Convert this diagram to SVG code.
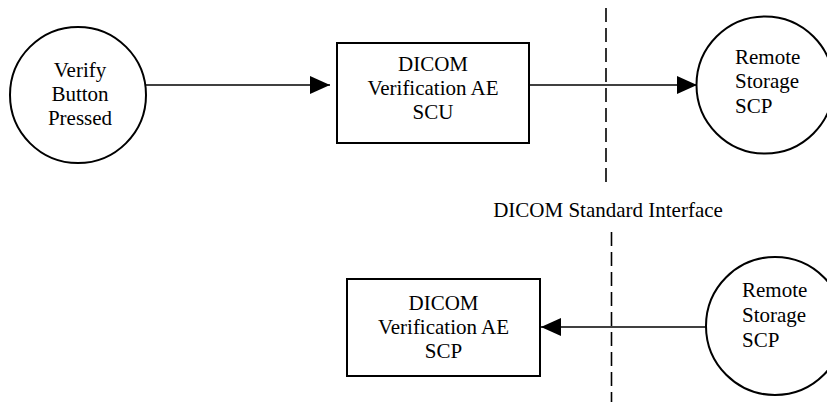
<svg xmlns="http://www.w3.org/2000/svg" width="827" height="404" viewBox="0 0 827 404">
  <style>
    .shape { fill: #ffffff; stroke: #000000; stroke-width: 2; }
    .conn { stroke: #000000; stroke-width: 1.6; fill: none; }
    .dash { stroke: #000000; stroke-width: 1.6; fill: none; stroke-dasharray: 14 6; }
    .t { font-family: 'Liberation Serif', 'Times New Roman', Times, serif; font-size: 21px; fill: #000000; }
    .c { text-anchor: middle; }
  </style>
  <defs>
    <marker id="arrow" markerUnits="userSpaceOnUse" markerWidth="20" markerHeight="18" refX="20" refY="9" orient="auto">
      <path d="M0,0 L20,9 L0,18 z" fill="#000000"/>
    </marker>
  </defs>
  <rect width="827" height="404" fill="#ffffff"/>

  <g id="interface">
    <line class="dash" x1="606" y1="8" x2="606" y2="182"/>
    <line class="dash" x1="611.5" y1="232" x2="611.5" y2="402"/>
    <text class="t c" x="608" y="217">DICOM Standard Interface</text>
  </g>

  <g id="connectors">
    <line class="conn" x1="146" y1="85" x2="330" y2="85" marker-end="url(#arrow)"/>
    <line class="conn" x1="529" y1="85" x2="697" y2="85" marker-end="url(#arrow)"/>
    <line class="conn" x1="706" y1="327" x2="541" y2="327" marker-end="url(#arrow)"/>
  </g>

  <g id="verify-button">
    <circle class="shape" cx="78" cy="95" r="68"/>
    <text class="t c" x="80" y="77">Verify</text>
    <text class="t c" x="80" y="101">Button</text>
    <text class="t c" x="80" y="125">Pressed</text>
  </g>

  <g id="verification-scu">
    <rect class="shape" x="337" y="43" width="192" height="100"/>
    <text class="t c" x="433" y="71">DICOM</text>
    <text class="t c" x="433" y="95">Verification AE</text>
    <text class="t c" x="433" y="119">SCU</text>
  </g>

  <g id="remote-storage-1">
    <circle class="shape" cx="765" cy="85" r="68.5"/>
    <text class="t" x="735" y="64">Remote</text>
    <text class="t" x="735" y="88">Storage</text>
    <text class="t" x="735" y="113">SCP</text>
  </g>

  <g id="verification-scp">
    <rect class="shape" x="347" y="279" width="193" height="97"/>
    <text class="t c" x="443.5" y="310">DICOM</text>
    <text class="t c" x="443.5" y="334">Verification AE</text>
    <text class="t c" x="443.5" y="358">SCP</text>
  </g>

  <g id="remote-storage-2">
    <circle class="shape" cx="775" cy="326" r="69"/>
    <text class="t" x="742" y="297">Remote</text>
    <text class="t" x="742" y="322">Storage</text>
    <text class="t" x="742" y="347">SCP</text>
  </g>
</svg>
